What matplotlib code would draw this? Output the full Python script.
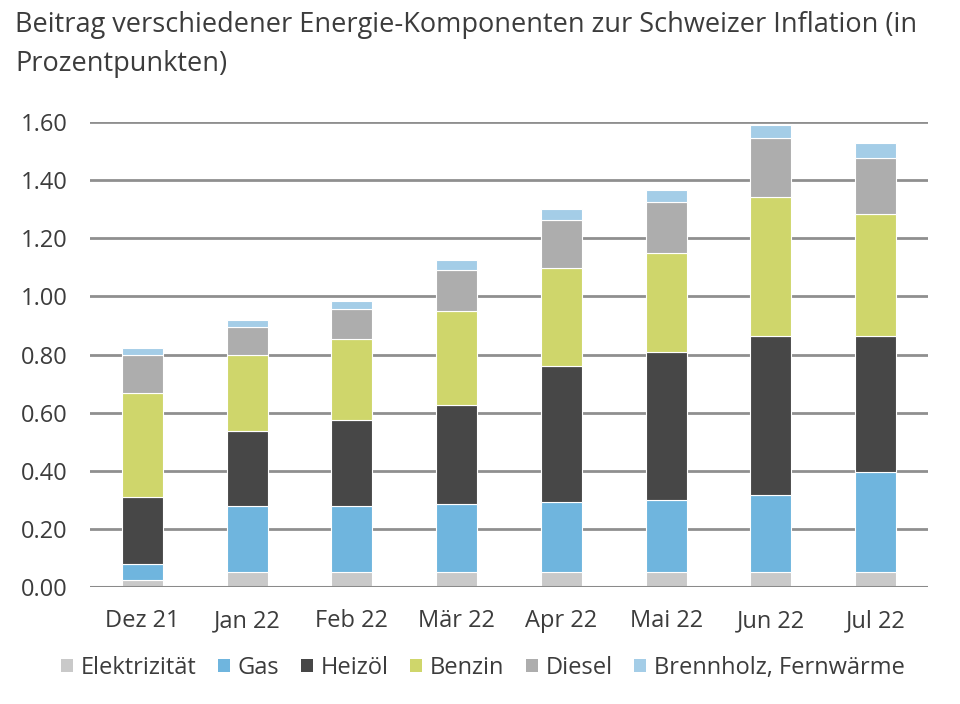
import numpy as np
import matplotlib
matplotlib.use('Agg')
import matplotlib.pyplot as plt
from matplotlib.patches import Patch

plt.rcParams['font.family'] = ['Open Sans', 'DejaVu Sans']

# data (Prozentpunkte)
months = ['Dez 21', 'Jan 22', 'Feb 22', 'Mär 22', 'Apr 22', 'Mai 22', 'Jun 22', 'Jul 22']
elektrizitaet = [0.025, 0.05, 0.05, 0.05, 0.05, 0.05, 0.05, 0.05]
gas = [0.054, 0.23, 0.23, 0.235, 0.242, 0.249, 0.266, 0.345]
heizoel = [0.23, 0.256, 0.293, 0.34, 0.467, 0.508, 0.546, 0.467]
benzin = [0.357, 0.261, 0.282, 0.323, 0.34, 0.343, 0.48, 0.422]
diesel = [0.131, 0.096, 0.10, 0.144, 0.164, 0.175, 0.203, 0.192]
brennholz = [0.027, 0.027, 0.03, 0.034, 0.037, 0.042, 0.045, 0.052]

series = [
    ('Elektrizität', elektrizitaet, '#c9c9c9'),
    ('Gas', gas, '#6fb5de'),
    ('Heizöl', heizoel, '#474747'),
    ('Benzin', benzin, '#cfd66b'),
    ('Diesel', diesel, '#adadad'),
    ('Brennholz, Fernwärme', brennholz, '#a4cde7'),
]

text_col = '#3c3c3c'
grid_col = '#8f8f8f'

fig = plt.figure(figsize=(9.6, 7.04), dpi=100)
ax = fig.add_axes([90 / 960, 1 - 587 / 704, (928 - 90) / 960, (587 - 122) / 704])

x = np.arange(len(months))
bottom = np.zeros(len(months))
for name, vals, col in series:
    vals = np.array(vals)
    ax.bar(x, vals, width=0.39, bottom=bottom, color=col, edgecolor='white',
           linewidth=0.8, label=name, zorder=3)
    bottom += vals

ax.set_xlim(-0.5, 7.5)
ax.set_ylim(0, 1.6)
ax.set_yticks(np.arange(0, 1.61, 0.2))
ax.set_yticklabels([f'{v:.2f}' for v in np.arange(0, 1.61, 0.2)])
ax.set_xticks(x)
ax.set_xticklabels(months)
ax.yaxis.grid(True, color=grid_col, linewidth=2, zorder=0)
ax.axhline(0, color='#8a8a8a', linewidth=2.2, zorder=4)
for s in ax.spines.values():
    s.set_visible(False)
ax.tick_params(axis='both', length=0, labelsize=17, colors=text_col)
ax.tick_params(axis='y', pad=16)
ax.tick_params(axis='x', pad=16)

# title, two lines
fig.text(15 / 960, 1 - 32 / 704,
         'Beitrag verschiedener Energie-Komponenten zur Schweizer Inflation (in',
         ha='left', va='baseline', fontsize=19.5, color=text_col)
fig.text(15 / 960, 1 - 71 / 704, 'Prozentpunkten)',
         ha='left', va='baseline', fontsize=19.5, color=text_col)

handles = [Patch(facecolor=c, edgecolor='none', label=n) for n, _, c in series]
fig.legend(handles=handles, loc='center', bbox_to_anchor=(483 / 960, 1 - 668 / 704),
           ncol=6, frameon=False, fontsize=17, handlelength=0.5, handleheight=0.5,
           handletextpad=0.35, columnspacing=0.9, labelcolor=text_col, borderaxespad=0)

fig.savefig('out.png', dpi=100)
